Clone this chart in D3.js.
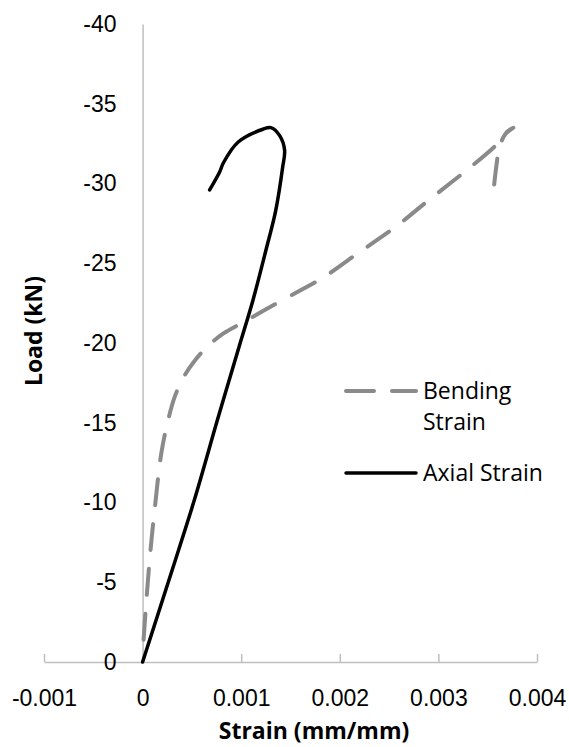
<!DOCTYPE html>
<html>
<head>
<meta charset="utf-8">
<script src="https://cdn.jsdelivr.net/npm/d3@7/dist/d3.min.js"></script>
<style>
  body { margin: 0; background: #fff; }
  svg { display: block; font-family: 'Open Sans', 'Noto Sans', sans-serif; }
</style>
</head>
<body>
<div id="chart"></div>
<script>
// values
const bendingStrain = [0.00001, 0.00004, 0.00008, 0.00013, 0.00019, 0.00026, 0.00033, 0.00042, 0.00053, 0.00066,
  0.00082, 0.00102, 0.00122, 0.00142, 0.00183, 0.0022, 0.00257, 0.00291, 0.0033, 0.0036,
  0.00369, 0.00376, 0.00368, 0.00362, 0.00359, 0.00356];
const bendingLoad = [-1.4, -4, -7, -10, -13.1, -15.2, -16.7, -17.9, -18.9, -19.8,
  -20.6, -21.3, -22.0, -22.7, -24.1, -25.7, -27.3, -29.0, -30.9, -32.5,
  -33.2, -33.5, -33.1, -32.3, -31.2, -29.6];

const axialStrain = [0, 0.00026, 0.000527, 0.00076, 0.00098, 0.00112, 0.00125, 0.00135, 0.00142, 0.00144,
  0.00139, 0.0013, 0.00122, 0.00097, 0.00082, 0.00078, 0.00068];
const axialLoad = [0, -5, -10.2, -15.2, -19.8, -22.7, -25.8, -28.3, -31, -32.1,
  -33, -33.5, -33.4, -32.6, -31.3, -30.7, -29.6];

const xTicks = [-0.001, 0, 0.001, 0.002, 0.003, 0.004];
const yTicks = [0, -5, -10, -15, -20, -25, -30, -35, -40];
const legendLabels = [['Bending', 'Strain'], ['Axial Strain']];

const width = 569;
const height = 747;
const fontSize = '23px';

const svg = d3.select('#chart')
  .append('svg')
  .attr('width', width)
  .attr('height', height);

const x = d3.scaleLinear()
  .domain([-0.001, 0.004])
  .range([44, 537]);

const y = d3.scaleLinear()
  .domain([0, -40])
  .range([662, 24]);

const axisColor = '#bfbfbf';

// X axis, ticks point up into the plot
const gx = svg.append('g')
  .attr('transform', 'translate(0,' + y(0) + ')')
  .call(d3.axisBottom(x)
    .tickValues(xTicks)
    .tickFormat(d => String(d))
    .tickSizeInner(-8)
    .tickSizeOuter(0)
    .tickPadding(28));
gx.selectAll('path, line').attr('stroke', axisColor).attr('stroke-width', 1.5);
gx.selectAll('text').attr('fill', '#000').style('font-size', fontSize).style('font-family', null);

// Y axis sits on strain = 0
const gy = svg.append('g')
  .attr('transform', 'translate(' + x(0) + ',0)')
  .call(d3.axisLeft(y)
    .tickValues(yTicks)
    .tickFormat(d => String(d))
    .tickSize(0)
    .tickPadding(26));
gy.selectAll('path, line').attr('stroke', axisColor).attr('stroke-width', 1.5);
gy.selectAll('text').attr('fill', '#000').style('font-size', fontSize).style('font-family', null);

// axis titles
svg.append('text')
  .attr('transform', 'rotate(-90)')
  .attr('x', -331)
  .attr('y', 42)
  .attr('text-anchor', 'middle')
  .style('font-size', fontSize)
  .style('font-weight', 'bold')
  .text('Load (kN)');

svg.append('text')
  .attr('x', 314)
  .attr('y', 739)
  .attr('text-anchor', 'middle')
  .style('font-size', fontSize)
  .style('font-weight', 'bold')
  .text('Strain (mm/mm)');

const curve = d3.line()
  .x(d => x(d[0]))
  .y(d => y(d[1]))
  .curve(d3.curveCatmullRom.alpha(0.5));

const bendingPts = d3.zip(bendingStrain, bendingLoad);
const axialPts = d3.zip(axialStrain, axialLoad);

const bendingStyle = {stroke: '#8a8a8a', width: 4, dash: '26,19'};
const axialStyle = {stroke: '#000', width: 3.5, dash: null};

svg.append('path')
  .attr('d', curve(bendingPts))
  .attr('fill', 'none')
  .attr('stroke', bendingStyle.stroke)
  .attr('stroke-width', bendingStyle.width)
  .attr('stroke-dasharray', bendingStyle.dash)
  .attr('stroke-linecap', 'round');

svg.append('path')
  .attr('d', curve(axialPts))
  .attr('fill', 'none')
  .attr('stroke', axialStyle.stroke)
  .attr('stroke-width', axialStyle.width)
  .attr('stroke-linecap', 'round')
  .attr('stroke-linejoin', 'round');

// legend
const legendStyles = [bendingStyle, axialStyle];
const legendY = [391, 473];
const legend = svg.selectAll('.legend-item')
  .data(legendLabels)
  .enter()
  .append('g')
  .attr('class', 'legend-item')
  .attr('transform', (d, i) => 'translate(346,' + legendY[i] + ')');

legend.append('line')
  .attr('x1', 0)
  .attr('x2', 70)
  .attr('y1', 0)
  .attr('y2', 0)
  .attr('stroke', (d, i) => legendStyles[i].stroke)
  .attr('stroke-width', (d, i) => legendStyles[i].width)
  .attr('stroke-dasharray', (d, i) => legendStyles[i].dash ? '28,18' : null)
  .attr('stroke-linecap', 'round');

legend.append('text')
  .attr('x', 77)
  .attr('y', 8)
  .style('font-size', fontSize)
  .selectAll('tspan')
  .data(d => d)
  .enter()
  .append('tspan')
  .attr('x', 77)
  .attr('dy', (d, i) => i === 0 ? 0 : 31)
  .text(d => d);
</script>
</body>
</html>
